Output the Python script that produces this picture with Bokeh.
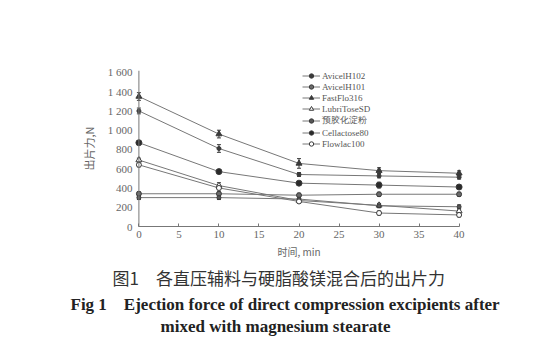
from bokeh.plotting import figure
from bokeh.models import (Range1d, Span, Legend, LegendItem, Title, Whisker,
                          ColumnDataSource, TeeHead, FixedTicker)
from bokeh.embed import file_html
from bokeh.resources import INLINE

# ---- data ----
times = [0, 10, 20, 30, 40]
series_names = ["AvicelH102", "AvicelH101", "FastFlo316", "LubriToseSD",
                "预胶化淀粉", "Cellactose80", "Flowlac100"]
avicel_h102 = [1200, 810, 540, 525, 512]
avicel_h101 = [340, 340, 325, 335, 335]
fastflo316 = [1350, 960, 655, 580, 553]
lubritose_sd = [690, 425, 270, 220, 160]
pregel_starch = [300, 300, 285, 215, 205]
cellactose80 = [870, 570, 450, 430, 410]
flowlac100 = [640, 400, 260, 140, 120]
err_h102 = [30, 40, 20, 20, 20]
err_h101 = [20, 20, 20, 20, 20]
err_fastflo = [40, 40, 50, 30, 25]
err_lubri = [20, 30, 20, 20, 20]
err_pregel = [20, 20, 20, 20, 20]
err_cell = [20, 20, 15, 30, 20]
err_flow = [20, 20, 15, 20, 20]
x_ticks = [0, 5, 10, 15, 20, 25, 30, 35, 40]
y_ticks = [0, 200, 400, 600, 800, 1000, 1200, 1400, 1600]
y_tick_labels = ["0", "200", "400", "600", "800", "1 000", "1 200", "1 400", "1 600"]
x_label = "时间, min"
y_label = "出片力,N"
caption_cn = "图1　各直压辅料与硬脂酸镁混合后的出片力"
caption_en1 = "Fig 1　Ejection force of direct compression excipients after"
caption_en2 = "mixed with magnesium stearate"

values = [avicel_h102, avicel_h101, fastflo316, lubritose_sd,
          pregel_starch, cellactose80, flowlac100]
errors = [err_h102, err_h101, err_fastflo, err_lubri, err_pregel, err_cell, err_flow]
markers = ["circle", "circle", "triangle", "triangle", "circle", "circle", "circle"]
sizes = [4, 5, 6, 6, 4, 6, 5]
fills = ["#3a3a3a", "#6a6a6a", "#3a3a3a", "white", "#555555", "#2a2a2a", "white"]

LINE = "#777777"
MARK = "#3a3a3a"
TXT = "#666666"
SERIF = "Liberation Serif"

p = figure(width=539, height=350, output_backend="svg", toolbar_location=None,
           x_range=Range1d(-0.8, 40.8), y_range=Range1d(0, 1620),
           min_border_left=132, min_border_right=74, min_border_top=70,
           min_border_bottom=124, background_fill_color="white",
           border_fill_color="white", outline_line_color=None)
p.grid.visible = False

xa = p.xaxis[0]
xa.bounds = (0, 40)
xa.ticker = FixedTicker(ticks=x_ticks)
xa.major_tick_in = 3
xa.major_tick_out = 0
xa.minor_tick_line_color = None
xa.axis_line_color = LINE
xa.major_tick_line_color = LINE
xa.major_label_text_font = SERIF
xa.major_label_text_font_size = "11px"
xa.major_label_text_color = TXT
xa.major_label_standoff = 4
xa.axis_label = x_label
xa.axis_label_text_font = "Noto Sans CJK SC"
xa.axis_label_text_font_size = "10px"
xa.axis_label_text_font_style = "normal"
xa.axis_label_text_color = TXT
xa.axis_label_standoff = 3

ya = p.yaxis[0]
ya.ticker = FixedTicker(ticks=y_ticks)
ya.major_label_overrides = {t: l for t, l in zip(y_ticks, y_tick_labels)}
ya.axis_line_color = None
ya.major_tick_line_color = None
ya.minor_tick_line_color = None
ya.major_tick_in = 0
ya.major_tick_out = 0
ya.major_label_standoff = 0
ya.major_label_text_font = SERIF
ya.major_label_text_font_size = "11px"
ya.major_label_text_color = TXT
ya.axis_label = y_label
ya.axis_label_text_font = "Noto Sans CJK SC"
ya.axis_label_text_font_size = "11px"
ya.axis_label_text_font_style = "normal"
ya.axis_label_text_color = TXT
ya.axis_label_standoff = 8

p.add_layout(Span(location=0, dimension="height", line_color=LINE, line_width=1))

items = []
for name, vals, errs, mk, sz, fc in zip(series_names, values, errors, markers, sizes, fills):
    src = ColumnDataSource(dict(x=times, y=vals,
                                lo=[v - e for v, e in zip(vals, errs)],
                                hi=[v + e for v, e in zip(vals, errs)]))
    ln = p.line("x", "y", source=src, line_color=LINE, line_width=1)
    sc = p.scatter("x", "y", source=src, marker=mk, size=sz, line_color=MARK,
                   fill_color=fc, line_width=1)
    w = Whisker(source=src, base="x", upper="hi", lower="lo", line_color=MARK,
                line_width=1,
                upper_head=TeeHead(size=4, line_color=MARK),
                lower_head=TeeHead(size=4, line_color=MARK))
    p.add_layout(w)
    items.append(LegendItem(label=name, renderers=[ln, sc]))

legend = Legend(items=items, location=(170, 77), padding=0, margin=0,
                spacing=0, glyph_height=11, glyph_width=18, label_height=11,
                label_standoff=2, label_text_font=SERIF,
                label_text_font_size="9px", label_text_color="#555555",
                border_line_color=None, background_fill_alpha=0)
p.add_layout(legend, "center")

t1 = Title(text=caption_cn, align="left", text_font="Noto Sans CJK SC",
           text_font_size="17px", text_font_style="normal", text_color="#333333",
           offset=-20, standoff=3)
t2 = Title(text=caption_en1, align="left", text_font=SERIF,
           text_font_size="17px", text_font_style="bold", text_color="#222222",
           offset=-62, standoff=2)
t3 = Title(text=caption_en2, align="left", text_font=SERIF,
           text_font_size="17px", text_font_style="bold", text_color="#222222",
           offset=28, standoff=0)
p.add_layout(t1, "below")
p.add_layout(t2, "below")
p.add_layout(t3, "below")

open("out.html", "w").write(file_html(p, INLINE))
